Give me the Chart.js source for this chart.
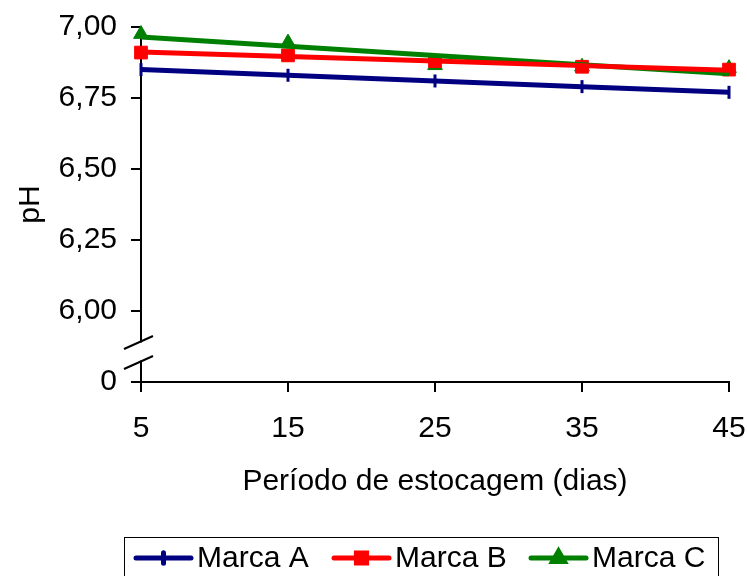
<!DOCTYPE html>
<html>
<head>
<meta charset="utf-8">
<script src="https://cdn.jsdelivr.net/npm/chart.js@4/dist/chart.umd.min.js"></script>
<style>
  html, body { margin: 0; padding: 0; background: #fff; }
  #wrap { width: 747px; height: 576px; }
</style>
</head>
<body>
<div id="wrap"><canvas id="phChart" width="747" height="576"></canvas></div>
<script>
// dados (pH por período de estocagem)
const dias = ['5', '15', '25', '35', '45'];
const marcaA = [6.85, 6.83, 6.81, 6.79, 6.77];
const marcaB = [6.91, 6.90, 6.88, 6.86, 6.85];
const marcaC = [6.975, 6.945, 6.865, 6.86, 6.855];
const yTicks = [5.75, 6.00, 6.25, 6.50, 6.75, 7.00]; // 5.75 aparece como "0" (eixo quebrado)

const FONT = "'Liberation Sans', Arial, sans-serif";
const FS = 30;

Chart.defaults.font.family = FONT;
Chart.defaults.color = '#000';

// linha de tendência linear (como no Excel), calculada a partir dos pontos
function tendencia(ys) {
    const xs = dias.map(Number);
    const n = xs.length;
    const mx = xs.reduce((a, b) => a + b, 0) / n;
    const my = ys.reduce((a, b) => a + b, 0) / n;
    let num = 0, den = 0;
    xs.forEach((x, i) => { num += (x - mx) * (ys[i] - my); den += (x - mx) * (x - mx); });
    const b = num / den;
    return xs.map(x => my + b * (x - mx));
}

const series = [
    { label: 'Marca A', data: marcaA, color: '#000080', pointStyle: 'line', rotation: 90, pointRadius: 6.5, pointBorderWidth: 3 },
    { label: 'Marca B', data: marcaB, color: '#ff0000', pointStyle: 'rect', pointRadius: 9, pointBorderWidth: 1 },
    { label: 'Marca C', data: marcaC, color: '#008000', pointStyle: 'triangle', pointRadius: 8.5, pointBorderWidth: 1 }
];

const lineSets = series.map(s => ({
    label: s.label + ' (tendência)',
    data: tendencia(s.data),
    borderColor: s.color,
    borderWidth: 5,
    pointRadius: 0,
    tension: 0,
    clip: false
}));

const markerSets = series.map(s => ({
    label: s.label,
    data: s.data,
    showLine: false,
    borderColor: s.color,
    backgroundColor: s.color,
    pointBackgroundColor: s.color,
    pointBorderColor: s.color,
    pointStyle: s.pointStyle,
    rotation: s.rotation || 0,
    pointRadius: s.pointRadius,
    pointBorderWidth: s.pointBorderWidth,
    clip: false
}));

// quebra do eixo Y + legenda com caixa
const extras = {
    id: 'extras',
    afterDraw: (chart) => {
        const { ctx } = chart;
        const y = chart.scales.y;
        const ax = y.right;
        const mid = y.getPixelForValue(5.875) + 5;
        ctx.save();
        ctx.fillStyle = '#fff';
        ctx.fillRect(ax - 3, mid - 9, 6, 18);
        ctx.strokeStyle = '#000';
        ctx.lineWidth = 2;
        [mid - 10, mid + 10].forEach(cy => {
            ctx.beginPath();
            ctx.moveTo(ax - 17, cy + 7.5);
            ctx.lineTo(ax + 12, cy - 5.5);
            ctx.stroke();
        });

        // legenda
        ctx.lineWidth = 1;
        ctx.strokeRect(124.5, 537.5, 594, 45);
        const ly = 558;
        const starts = [136, 334, 531];
        ctx.font = FS + 'px ' + FONT;
        ctx.textBaseline = 'middle';
        ctx.textAlign = 'left';
        series.forEach((s, i) => {
            const x0 = starts[i];
            ctx.strokeStyle = s.color;
            ctx.fillStyle = s.color;
            ctx.lineWidth = 5;
            ctx.lineCap = 'round';
            ctx.beginPath();
            ctx.moveTo(x0, ly);
            ctx.lineTo(x0 + 55, ly);
            ctx.stroke();
            Chart.helpers.drawPoint(ctx, {
                pointStyle: s.pointStyle,
                rotation: s.rotation || 0,
                radius: s.pointRadius * 0.8,
                borderWidth: s.pointBorderWidth
            }, x0 + 27.5, ly);
            ctx.fillStyle = '#000';
            ctx.fillText(s.label, x0 + 61, ly + 1);
        });
        ctx.restore();
    }
};

new Chart(document.getElementById('phChart'), {
    type: 'line',
    data: {
        labels: dias,
        datasets: [...lineSets, ...markerSets]
    },
    options: {
        responsive: false,
        animation: false,
        events: [],
        layout: { padding: { left: 0, top: 27, right: 18, bottom: 79.5 } },
        plugins: { legend: { display: false }, tooltip: { enabled: false } },
        scales: {
            x: {
                type: 'category',
                offset: false,
                grid: { drawOnChartArea: false, drawTicks: true, tickLength: 10, color: '#000', lineWidth: 2, offset: false },
                border: { color: '#000', width: 2 },
                ticks: { padding: 19, font: { size: FS }, maxRotation: 0, autoSkip: false },
                title: { display: true, text: 'Período de estocagem (dias)', font: { size: FS, lineHeight: 1 }, padding: 0 },
                afterFit: (s) => { s.height = 114.5; s.paddingLeft = 0; s.paddingRight = 0; }
            },
            y: {
                min: 5.75,
                max: 7.0,
                afterBuildTicks: (s) => { s.ticks = yTicks.map(v => ({ value: v })); },
                grid: { drawOnChartArea: false, drawTicks: true, tickLength: 10, color: '#000', lineWidth: 2 },
                border: { color: '#000', width: 2 },
                ticks: {
                    padding: 14,
                    font: { size: FS },
                    callback: (v) => v === 5.75 ? '0' : v.toFixed(2).replace('.', ',')
                },
                title: { display: true, text: 'pH', font: { size: FS, lineHeight: 1 }, padding: { top: 16, bottom: 0 } },
                afterFit: (s) => { s.width = 141; s.paddingTop = 0; s.paddingBottom = 0; }
            }
        }
    },
    plugins: [extras]
});
</script>
</body>
</html>
